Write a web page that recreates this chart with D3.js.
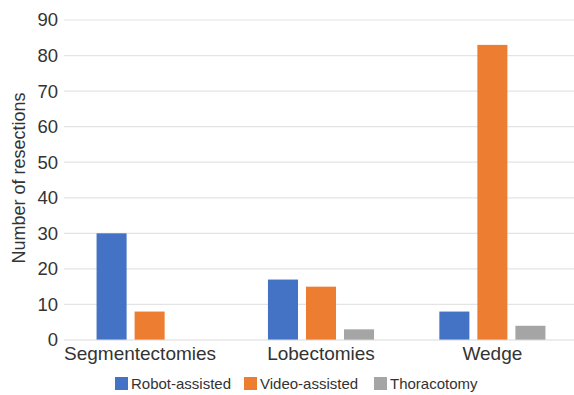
<!DOCTYPE html>
<html>
<head>
<meta charset="utf-8">
<script src="https://cdn.jsdelivr.net/npm/d3@7"></script>
<style>
  html, body { margin: 0; padding: 0; background: #fff; }
  svg { display: block; }
  text { font-family: "Liberation Sans", Arial, Helvetica, sans-serif; }
</style>
</head>
<body>
<svg id="chart" width="574" height="395"></svg>
<script>
const categories = ["Segmentectomies", "Lobectomies", "Wedge"];
const seriesNames = ["Robot-assisted", "Video-assisted", "Thoracotomy"];
const robotValues = [30, 17, 8];
const videoValues = [8, 15, 83];
const thoracotomyValues = [0, 3, 4];
const yTicks = [0, 10, 20, 30, 40, 50, 60, 70, 80, 90];
const colors = ["#4472C4", "#ED7D31", "#A5A5A5"];
const yTitle = "Number of resections";

const seriesValues = [robotValues, videoValues, thoracotomyValues];
const data = categories.map((c, i) => ({
  category: c,
  values: seriesNames.map((s, j) => ({ series: s, value: seriesValues[j][i], color: colors[j] }))
}));

const plotLeft = 64;
const svg = d3.select("#chart");
const x0 = d3.scaleBand().domain(categories).range([plotLeft, 578]).paddingInner(0.381).paddingOuter(0.19);
const x1 = d3.scaleBand().domain(seriesNames).range([0, x0.bandwidth()]).paddingInner(0.21).paddingOuter(0);
const y = d3.scaleLinear().domain([0, 90]).range([340, 20]);

// gridlines
svg.append("g").selectAll("line").data(yTicks.filter(t => t > 0)).join("line")
  .attr("x1", plotLeft).attr("x2", 574)
  .attr("y1", d => y(d)).attr("y2", d => y(d))
  .attr("stroke", "#e4e4e4").attr("stroke-width", 1.2);

// y tick labels
svg.append("g").selectAll("text").data(yTicks).join("text")
  .attr("x", 58).attr("y", d => y(d))
  .attr("dy", "0.35em")
  .attr("text-anchor", "end")
  .attr("font-size", 18.5)
  .attr("fill", "#333")
  .text(d => d);

// bars
const groups = svg.append("g").selectAll("g").data(data).join("g")
  .attr("transform", d => `translate(${x0(d.category)},0)`);
groups.selectAll("rect").data(d => d.values).join("rect")
  .attr("x", d => x1(d.series))
  .attr("width", x1.bandwidth())
  .attr("y", d => y(d.value))
  .attr("height", d => y(0) - y(d.value))
  .attr("fill", d => d.color);

// baseline
svg.append("line")
  .attr("x1", plotLeft).attr("x2", 574)
  .attr("y1", y(0)).attr("y2", y(0))
  .attr("stroke", "#d9d9d9").attr("stroke-width", 1.2);

// category labels (first one aligned to the plot's left edge, as in the original)
svg.append("g").selectAll("text").data(categories).join("text")
  .attr("y", 360)
  .attr("font-size", 19)
  .attr("fill", "#333")
  .text(d => d)
  .attr("text-anchor", (d, i) => i === 0 ? "start" : "middle")
  .attr("x", (d, i) => i === 0 ? plotLeft : x0(d) + x0.bandwidth() / 2);

// y axis title
svg.append("text")
  .attr("transform", "translate(25,178) rotate(-90)")
  .attr("text-anchor", "middle")
  .attr("font-size", 18)
  .attr("fill", "#333")
  .text(yTitle);

// legend
const legendX = [115, 244, 374];
const legend = svg.append("g").selectAll("g").data(seriesNames).join("g")
  .attr("transform", (d, i) => `translate(${legendX[i]},377)`);
legend.append("rect").attr("width", 13).attr("height", 13).attr("fill", (d, i) => colors[i]);
legend.append("text").attr("x", 16).attr("y", 11.5)
  .attr("font-size", 15).attr("fill", "#333").text(d => d);
</script>
</body>
</html>
